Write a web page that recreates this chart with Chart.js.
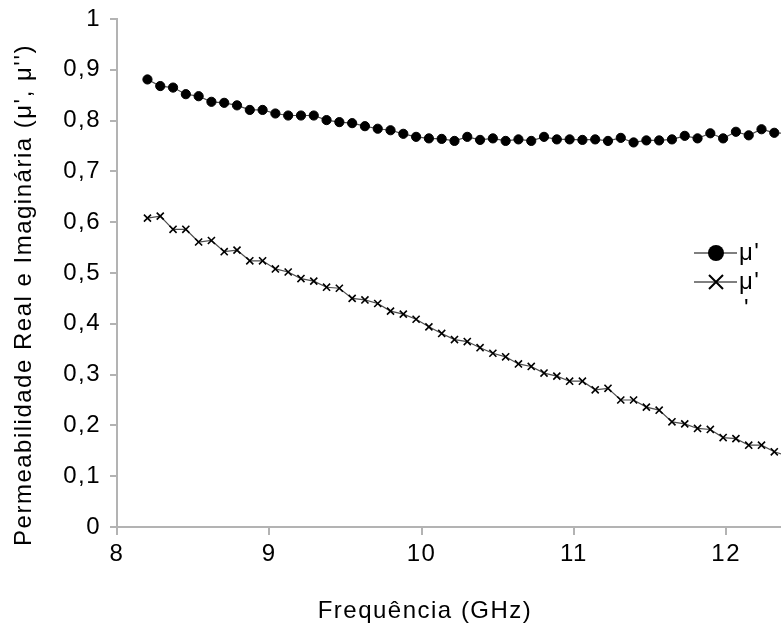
<!DOCTYPE html>
<html>
<head>
<meta charset="utf-8">
<script src="https://cdn.jsdelivr.net/npm/chart.js@4.4.1/dist/chart.umd.min.js"></script>
<style>
  html, body { margin: 0; padding: 0; background: #fff; }
  #wrap { width: 781px; height: 626px; }
</style>
</head>
<body>
<div id="wrap"><canvas id="grafico" width="781" height="626"></canvas></div>
<script>
// Frequência (GHz)
const frequencias = [
  8.200, 8.284, 8.368, 8.452, 8.536, 8.620, 8.704, 8.788, 8.872, 8.956,
  9.040, 9.124, 9.208, 9.292, 9.376, 9.460, 9.544, 9.628, 9.712, 9.796,
  9.880, 9.964, 10.048, 10.132, 10.216, 10.300, 10.384, 10.468, 10.552, 10.636,
  10.720, 10.804, 10.888, 10.972, 11.056, 11.140, 11.224, 11.308, 11.392, 11.476,
  11.560, 11.644, 11.728, 11.812, 11.896, 11.980, 12.064, 12.148, 12.232, 12.316,
  12.400
];

// μ' (parte real)
const muReal = [
  0.881, 0.868, 0.865, 0.852, 0.848, 0.837, 0.835, 0.830, 0.821, 0.821,
  0.814, 0.810, 0.810, 0.810, 0.801, 0.797, 0.795, 0.789, 0.784, 0.781,
  0.774, 0.768, 0.765, 0.764, 0.760, 0.768, 0.762, 0.765, 0.760, 0.763,
  0.760, 0.768, 0.763, 0.763, 0.762, 0.763, 0.760, 0.766, 0.757, 0.761,
  0.761, 0.763, 0.770, 0.765, 0.775, 0.765, 0.778, 0.771, 0.783, 0.776,
  0.775
];

// μ'' (parte imaginária)
const muImag = [
  0.608, 0.612, 0.586, 0.586, 0.561, 0.564, 0.542, 0.545, 0.524, 0.524,
  0.508, 0.502, 0.489, 0.484, 0.472, 0.470, 0.450, 0.447, 0.440, 0.425,
  0.419, 0.409, 0.394, 0.381, 0.369, 0.365, 0.353, 0.342, 0.335, 0.321,
  0.316, 0.303, 0.297, 0.287, 0.287, 0.270, 0.273, 0.250, 0.250, 0.236,
  0.230, 0.207, 0.203, 0.194, 0.192, 0.176, 0.174, 0.161, 0.161, 0.148,
  0.140
];

const xTicks = [8, 9, 10, 11, 12];
const legendas = ["μ'", "μ''"];
const tituloX = 'Frequência (GHz)';
const tituloY = "Permeabilidade Real e Imaginária (μ', μ'')";

const FONTE = "'Liberation Sans', Arial, sans-serif";
const TAM = 24;
const CINZA = '#b3b3b3';

function pontos(ys) {
  return frequencias.map((f, i) => ({ x: f, y: ys[i] }));
}

// o texto do original é mais espaçado
const espacamento = {
  id: 'espacamento',
  beforeUpdate(chart) { chart.ctx.letterSpacing = '1.5px'; },
  beforeDraw(chart) { chart.ctx.letterSpacing = '1.5px'; }
};

// títulos dos eixos e legenda desenhados à mão (posições do original)
const extrasPlugin = {
  id: 'extras',
  afterDraw(chart) {
    const ctx = chart.ctx;
    ctx.save();
    ctx.letterSpacing = '1.5px';
    ctx.font = TAM + 'px ' + FONTE;
    ctx.fillStyle = '#000';

    // títulos
    ctx.textAlign = 'center';
    ctx.textBaseline = 'alphabetic';
    ctx.fillText(tituloX, 425, 618);
    ctx.save();
    ctx.translate(31, 295);
    ctx.rotate(-Math.PI / 2);
    ctx.fillText(tituloY, 0, 0);
    ctx.restore();

    // legenda
    ctx.textAlign = 'left';
    ctx.textBaseline = 'middle';
    let y = 253;
    ctx.strokeStyle = '#555';
    ctx.lineWidth = 1.5;
    ctx.beginPath(); ctx.moveTo(694, y); ctx.lineTo(737, y); ctx.stroke();
    ctx.beginPath(); ctx.arc(716, y, 8, 0, Math.PI * 2); ctx.fill();
    ctx.fillText(legendas[0], 739, y);

    // μ'' quebrado em duas linhas
    y = 282;
    ctx.beginPath(); ctx.moveTo(694, y); ctx.lineTo(737, y); ctx.stroke();
    ctx.strokeStyle = '#000';
    ctx.lineWidth = 2;
    ctx.beginPath();
    ctx.moveTo(709, y - 7); ctx.lineTo(723, y + 7);
    ctx.moveTo(723, y - 7); ctx.lineTo(709, y + 7);
    ctx.stroke();
    ctx.fillText(legendas[1].slice(0, 2), 739, y);
    ctx.fillText(legendas[1].slice(2), 744, y + 27);
    ctx.restore();
  }
};

new Chart(document.getElementById('grafico'), {
  type: 'scatter',
  data: {
    datasets: [
      {
        label: legendas[0],
        data: pontos(muReal),
        showLine: true,
        borderColor: '#4d4d4d',
        borderWidth: 1.2,
        pointStyle: 'circle',
        pointRadius: 4.6,
        pointBorderWidth: 1,
        pointBackgroundColor: '#000',
        pointBorderColor: '#000'
      },
      {
        label: legendas[1],
        data: pontos(muImag),
        showLine: true,
        borderColor: '#4d4d4d',
        borderWidth: 1.2,
        pointStyle: 'crossRot',
        pointRadius: 5,
        pointBorderWidth: 1.6,
        pointBackgroundColor: '#000',
        pointBorderColor: '#000'
      }
    ]
  },
  options: {
    responsive: false,
    animation: false,
    devicePixelRatio: 1,
    layout: { autoPadding: false, padding: { left: 0, top: 19, right: 0, bottom: 0 } },
    plugins: {
      legend: { display: false },
      tooltip: { enabled: false }
    },
    scales: {
      x: {
        type: 'linear',
        min: 8,
        max: 12.36,
        afterBuildTicks: (s) => { s.ticks = xTicks.map(v => ({ value: v })); },
        afterFit: (s) => { s.height = 99; s.paddingLeft = 0; s.paddingRight = 0; },
        border: { color: CINZA, width: 2 },
        grid: { drawOnChartArea: false, drawTicks: true, tickLength: 8, color: CINZA, lineWidth: 2 },
        ticks: {
          font: { family: FONTE, size: TAM },
          color: '#000',
          padding: 5,
          maxRotation: 0,
          callback: (v) => String(v)
        }
      },
      y: {
        min: 0,
        max: 1,
        afterFit: (s) => { s.width = 117; s.paddingTop = 0; s.paddingBottom = 0; },
        border: { color: CINZA, width: 2 },
        grid: { drawOnChartArea: false, drawTicks: true, tickLength: 7, color: CINZA, lineWidth: 2 },
        ticks: {
          stepSize: 0.1,
          font: { family: FONTE, size: TAM },
          color: '#000',
          padding: 9,
          callback: (v) => String(Math.round(v * 10) / 10).replace('.', ',')
        }
      }
    }
  },
  plugins: [espacamento, extrasPlugin]
});
</script>
</body>
</html>
